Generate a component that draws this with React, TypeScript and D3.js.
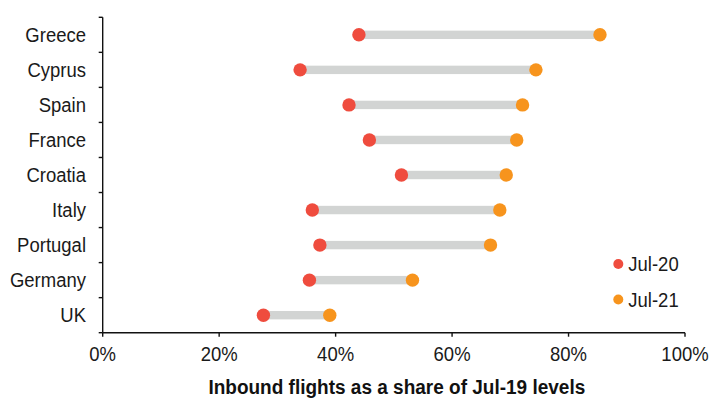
import React from "react";
import * as d3 from "d3";

// Inbound flights, share of July 2019 levels (%)
const countries = ["Greece", "Cyprus", "Spain", "France", "Croatia", "Italy", "Portugal", "Germany", "UK"];
const jul20 = [44.0, 33.9, 42.3, 45.8, 51.3, 36.0, 37.3, 35.5, 27.6];
const jul21 = [85.4, 74.4, 72.1, 71.1, 69.3, 68.2, 66.6, 53.2, 39.0];
const xTicks = [0, 20, 40, 60, 80, 100];
const seriesNames = ["Jul-20", "Jul-21"];

const W = 710;
const H = 401;
const RED = "#ef4c3e";
const ORANGE = "#f7941d";
const GREY = "#d2d4d3";
const FONT = "'Liberation Sans', Arial, Helvetica, sans-serif";
const SY = 1.1; // slightly tall lettering

export default function App() {
  const x = d3.scaleLinear().domain([0, 100]).range([102.7, 685]);
  const y = d3.scaleBand<string>().domain(countries).range([17.3, 332.7]).padding(0);
  const bw = y.bandwidth();
  const [y0, y1] = y.range();
  const fmt = (v: number) => `${v}%`;
  const boundaries = countries.map((c) => y(c) as number).concat([y1]);

  return (
    <svg width={W} height={H} style={{ position: "absolute", left: 0, top: 0, background: "#fff" }} fontFamily={FONT}>
      {/* dumbbells */}
      {countries.map((c, i) => {
        const cy = (y(c) as number) + bw / 2;
        return (
          <g key={c}>
            <rect x={x(jul20[i])} y={cy - 4.2} width={x(jul21[i]) - x(jul20[i])} height={8.4} fill={GREY} />
            <circle cx={x(jul20[i])} cy={cy} r={6.7} fill={RED} />
            <circle cx={x(jul21[i])} cy={cy} r={6.7} fill={ORANGE} />
          </g>
        );
      })}

      {/* y axis */}
      <line x1={x(0)} x2={x(0)} y1={y0} y2={y1} stroke="#111" strokeWidth={1.4} />
      {boundaries.map((b, i) => (
        <line key={i} x1={x(0) - 4} x2={x(0)} y1={b} y2={b} stroke="#111" strokeWidth={1.4} />
      ))}
      {countries.map((c) => (
        <g key={c} transform={`translate(86, ${(y(c) as number) + bw / 2}) scale(1, ${SY})`}>
          <text dy="0.35em" textAnchor="end" fontSize={18.5} fill="#1a1a1a">
            {c}
          </text>
        </g>
      ))}

      {/* x axis */}
      <line x1={x(0)} x2={x(100)} y1={y1} y2={y1} stroke="#111" strokeWidth={1.4} />
      {xTicks.map((t) => (
        <g key={t}>
          <line x1={x(t)} x2={x(t)} y1={y1} y2={y1 + 4} stroke="#111" strokeWidth={1.4} />
          <g transform={`translate(${x(t)}, 360.5) scale(1, ${SY})`}>
            <text textAnchor="middle" fontSize={18.5} fill="#1a1a1a">
              {fmt(t)}
            </text>
          </g>
        </g>
      ))}
      <g transform={`translate(${(x(0) + x(100)) / 2 + 3}, 393.5) scale(1, ${SY})`}>
        <text textAnchor="middle" fontSize={19} fontWeight="bold" fill="#111">
          Inbound flights as a share of Jul-19 levels
        </text>
      </g>

      {/* legend */}
      {seriesNames.map((s, i) => (
        <g key={s} transform={`translate(618.3, ${264 + i * 35.5})`}>
          <circle cx={0} cy={0} r={5} fill={i === 0 ? RED : ORANGE} />
          <g transform={`translate(10, 0) scale(1, ${SY})`}>
            <text dy="0.35em" fontSize={18.5} fill="#1a1a1a">
              {s}
            </text>
          </g>
        </g>
      ))}
    </svg>
  );
}
